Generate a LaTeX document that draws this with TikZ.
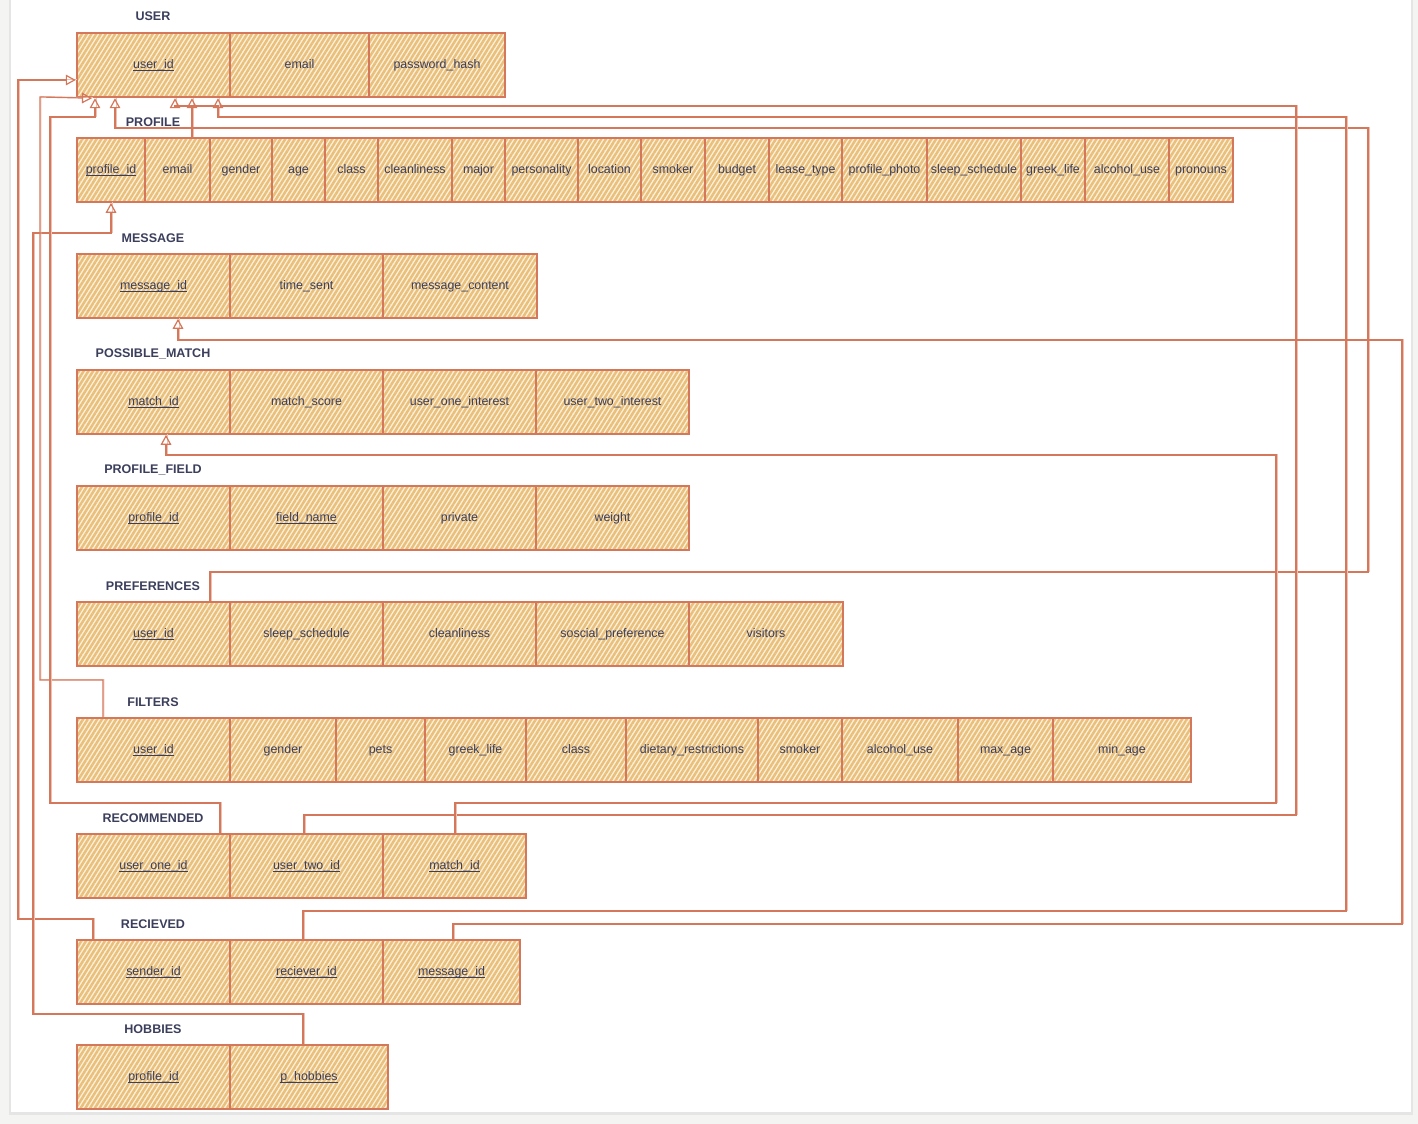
\documentclass[tikz,border=0pt]{standalone}
\usepackage{fontspec}
\setmainfont{Liberation Sans}
\usetikzlibrary{arrows.meta,patterns.meta}

\definecolor{ink}{HTML}{3B3F5C}
\definecolor{wire}{HTML}{D4775A}
\definecolor{hatch}{HTML}{E9BF7A}
\definecolor{hatchbg}{HTML}{FCF1DD}
\definecolor{page}{HTML}{F4F4F3}

\tikzset{
  cellbox/.style={draw=wire, line width=1.2pt,
    preaction={fill=hatchbg},
    pattern={Lines[angle=58,distance=3pt,line width=1.85pt]}, pattern color=hatch,
    minimum height=48pt, inner sep=0pt, text=ink,
    text height=7pt, text depth=2.4pt,
    font=\fontsize{9.3}{11}\selectfont},
  tlabel/.style={text=ink, inner sep=0pt, font=\fontsize{9.4}{11}\selectfont\bfseries},
  fk/.style={draw=wire, line width=0.9pt,
    preaction={draw=wire!45, line width=0.5pt, -, transform canvas={shift={(0.7pt,0.5pt)}}},
    -{Triangle[open,length=7.5pt,width=8pt,line width=0.9pt]}},
}

% one attribute cell: name, left x, right x, top y, text
\newcommand{\erdcell}[5]{%
  \node[cellbox, minimum width={0.75pt*(#3-#2)}] (#1) at ({(#2+#3)/2},{#4+32}) {#5};}
% key attribute: text with a solid rule just below the baseline
\newcommand{\pkey}[1]{\setbox0\hbox{#1}\rlap{\rule[-2.1pt]{\wd0}{0.95pt}}\box0}

\begin{document}
\begin{tikzpicture}[x=0.75pt,y=-0.75pt]
\useasboundingbox (0,0) rectangle (1418,1124);

% sheet with its shadow
\fill[page] (0,0) rectangle (1418,1124);
\fill[black!10] (9,0) rectangle (1413,1115);
\fill[white] (11,0) rectangle (1411,1112);

% ---------- USER ----------
\node[tlabel] (lblUser) at (153,16) {USER};
\erdcell{usrId}{77}{230}{33}{\pkey{user\_id}}
\erdcell{usrEmail}{230}{369}{33}{email}
\erdcell{usrPass}{369}{505}{33}{password\_hash}

% ---------- PROFILE ----------
\node[tlabel] (lblProfile) at (153,122) {PROFILE};
\erdcell{proId}{77}{145}{138}{\pkey{profile\_id}}
\erdcell{proEmail}{145}{210}{138}{email}
\erdcell{proGender}{210}{272}{138}{gender}
\erdcell{proAge}{272}{325}{138}{age}
\erdcell{proClass}{325}{378}{138}{class}
\erdcell{proClean}{378}{452}{138}{cleanliness}
\erdcell{proMajor}{452}{505}{138}{major}
\erdcell{proPers}{505}{578}{138}{personality}
\erdcell{proLoc}{578}{641}{138}{location}
\erdcell{proSmoker}{641}{705}{138}{smoker}
\erdcell{proBudget}{705}{769}{138}{budget}
\erdcell{proLease}{769}{842}{138}{lease\_type}
\erdcell{proPhoto}{842}{927}{138}{profile\_photo}
\erdcell{proSleep}{927}{1021}{138}{sleep\_schedule}
\erdcell{proGreek}{1021}{1085}{138}{greek\_life}
\erdcell{proAlcohol}{1085}{1169}{138}{alcohol\_use}
\erdcell{proPronouns}{1169}{1233}{138}{pronouns}

% ---------- MESSAGE ----------
\node[tlabel] (lblMessage) at (153,238) {MESSAGE};
\erdcell{msgId}{77}{230}{254}{\pkey{message\_id}}
\erdcell{msgTime}{230}{383}{254}{time\_sent}
\erdcell{msgContent}{383}{537}{254}{message\_content}

% ---------- POSSIBLE_MATCH ----------
\node[tlabel] (lblMatch) at (153,354) {POSSIBLE\_MATCH};
\erdcell{pmId}{77}{230}{370}{\pkey{match\_id}}
\erdcell{pmScore}{230}{383}{370}{match\_score}
\erdcell{pmOne}{383}{536}{370}{user\_one\_interest}
\erdcell{pmTwo}{536}{689}{370}{user\_two\_interest}

% ---------- PROFILE_FIELD ----------
\node[tlabel] (lblField) at (153,470) {PROFILE\_FIELD};
\erdcell{pfId}{77}{230}{486}{\pkey{profile\_id}}
\erdcell{pfName}{230}{383}{486}{\pkey{field\_name}}
\erdcell{pfPrivate}{383}{536}{486}{private}
\erdcell{pfWeight}{536}{689}{486}{weight}

% ---------- PREFERENCES ----------
\node[tlabel] (lblPref) at (153,586) {PREFERENCES};
\erdcell{prefUser}{77}{230}{602}{\pkey{user\_id}}
\erdcell{prefSleep}{230}{383}{602}{sleep\_schedule}
\erdcell{prefClean}{383}{536}{602}{cleanliness}
\erdcell{prefSocial}{536}{689}{602}{soscial\_preference}
\erdcell{prefVisitors}{689}{843}{602}{visitors}

% ---------- FILTERS ----------
\node[tlabel] (lblFilters) at (153,702) {FILTERS};
\erdcell{filUser}{77}{230}{718}{\pkey{user\_id}}
\erdcell{filGender}{230}{336}{718}{gender}
\erdcell{filPets}{336}{425}{718}{pets}
\erdcell{filGreek}{425}{526}{718}{greek\_life}
\erdcell{filClass}{526}{626}{718}{class}
\erdcell{filDiet}{626}{758}{718}{dietary\_restrictions}
\erdcell{filSmoker}{758}{842}{718}{smoker}
\erdcell{filAlcohol}{842}{958}{718}{alcohol\_use}
\erdcell{filMax}{958}{1053}{718}{max\_age}
\erdcell{filMin}{1053}{1191}{718}{min\_age}

% ---------- RECOMMENDED ----------
\node[tlabel] (lblRec) at (153,818) {RECOMMENDED};
\erdcell{recOne}{77}{230}{834}{\pkey{user\_one\_id}}
\erdcell{recTwo}{230}{383}{834}{\pkey{user\_two\_id}}
\erdcell{recMatch}{383}{526}{834}{\pkey{match\_id}}

% ---------- RECIEVED ----------
\node[tlabel] (lblRcv) at (153,924) {RECIEVED};
\erdcell{rcvSender}{77}{230}{940}{\pkey{sender\_id}}
\erdcell{rcvRecv}{230}{383}{940}{\pkey{reciever\_id}}
\erdcell{rcvMsg}{383}{520}{940}{\pkey{message\_id}}

% ---------- HOBBIES ----------
\node[tlabel] (lblHob) at (153,1029) {HOBBIES};
\erdcell{hobProfile}{77}{230}{1045}{\pkey{profile\_id}}
\erdcell{hobHobbies}{230}{388}{1045}{\pkey{p\_hobbies}}

% ---------- foreign keys ----------
% left-hand routes
\draw[fk] (rcvSender.north -| 93,0) -- (93,919) -- (18,919) -- (18,80) -- (usrId.west |- 0,80);
\draw[fk] (hobHobbies.north -| 303,0) -- (303,1014) -- (33,1014) -- (33,233) -- (111,233) -- (proId.south -| 111,0);
\draw[fk] (filUser.north -| 103,0) -- (103,680) -- (40,680) -- (40,97) -- (usrId.south -| 92,0);
\draw[fk] (recOne.north -| 220,0) -- (220,803) -- (50,803) -- (50,117) -- (95,117) -- (usrId.south -| 95,0);
\draw[fk] (proEmail.north -| 192,0) -- (usrId.south -| 192,0);

% right-hand routes
\draw[fk] (prefUser.north -| 210,0) -- (210,572) -- (1368,572) -- (1368,128) -- (115,128) -- (usrId.south -| 115,0);
\draw[fk] (recTwo.north -| 304,0) -- (304,815) -- (1296,815) -- (1296,106) -- (175,106) -- (usrId.south -| 175,0);
\draw[fk] (rcvRecv.north -| 303,0) -- (303,911) -- (1346,911) -- (1346,117) -- (218,117) -- (usrId.south -| 218,0);
\draw[fk] (rcvMsg.north -| 453,0) -- (453,924) -- (1402,924) -- (1402,340) -- (178,340) -- (msgId.south -| 178,0);
\draw[fk] (recMatch.north -| 455,0) -- (455,803) -- (1276,803) -- (1276,455) -- (166,455) -- (pmId.south -| 166,0);
\end{tikzpicture}
\end{document}
